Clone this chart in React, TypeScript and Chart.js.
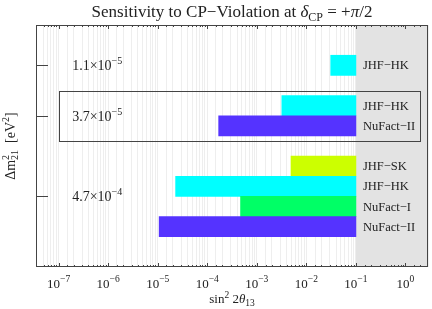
import { useEffect, useRef } from 'react';
import { Chart, registerables } from 'chart.js';
Chart.register(...registerables);

// ---- data ----
const rowPositions = [2, 4, 5, 7, 8, 9, 10];
const experimentNames = ['JHF−HK', 'JHF−HK', 'NuFact−II', 'JHF−SK', 'JHF−HK', 'NuFact−I', 'NuFact−II'];
const sensitivityLower = [0.031, 0.0032, 0.00017, 0.0049, 0.000023, 0.00047, 0.0000107];
const sensitivityUpper = [0.1, 0.1, 0.1, 0.1, 0.1, 0.1, 0.1];
const barColors = ['#00ffff', '#00ffff', '#5533ff', '#ccff00', '#00ffff', '#00ff66', '#5533ff'];
const groupPositions = [2, 4.5, 8.5];
const groupMantissas = ['1.1', '3.7', '4.7'];
const groupExponents = ['−5', '−5', '−4'];
const tickExponents = [-7, -6, -5, -4, -3, -2, -1, 0];
const excludedFrom = 0.1;
const xMin = 3.5e-8;
const xMax = 2.85;
const groupLabelX = 6e-7;
const highlightBox = { xFrom: 1e-7, xTo: 2.0, yFrom: 3.25, yTo: 5.75 };

const SERIF = '"Liberation Serif", "DejaVu Serif", serif';

type Seg = { t: string; size: number; dy?: number; italic?: boolean; stackWith?: Seg };

function fontOf(s: Seg) {
  return `${s.italic ? 'italic ' : ''}${s.size}px ${SERIF}`;
}
function segsWidth(ctx: CanvasRenderingContext2D, segs: Seg[]) {
  let w = 0;
  for (const s of segs) {
    ctx.font = fontOf(s);
    let sw = ctx.measureText(s.t).width;
    if (s.stackWith) {
      ctx.font = fontOf(s.stackWith);
      sw = Math.max(sw, ctx.measureText(s.stackWith.t).width);
    }
    w += sw;
  }
  return w;
}
function drawSegs(ctx: CanvasRenderingContext2D, segs: Seg[], x: number, y: number, align: 'left' | 'center') {
  const total = segsWidth(ctx, segs);
  let cx = align === 'center' ? x - total / 2 : x;
  ctx.textAlign = 'left';
  ctx.textBaseline = 'alphabetic';
  for (const s of segs) {
    ctx.font = fontOf(s);
    ctx.fillText(s.t, cx, y + (s.dy || 0));
    let sw = ctx.measureText(s.t).width;
    if (s.stackWith) {
      ctx.font = fontOf(s.stackWith);
      ctx.fillText(s.stackWith.t, cx, y + (s.stackWith.dy || 0));
      sw = Math.max(sw, ctx.measureText(s.stackWith.t).width);
    }
    cx += sw;
  }
}

const decor = {
  id: 'decor',
  beforeDatasetsDraw(chart: any) {
    const { ctx, chartArea: a, scales } = chart;
    const x0 = scales.x.getPixelForValue(excludedFrom);
    ctx.save();
    ctx.fillStyle = '#e3e3e3';
    ctx.fillRect(x0, a.top, a.right - x0, a.bottom - a.top);
    ctx.restore();
  },
  afterDatasetsDraw(chart: any) {
    const { ctx, chartArea: a, scales } = chart;
    const xs = scales.x;
    const ys = scales.y;
    ctx.save();
    ctx.fillStyle = '#222';
    ctx.strokeStyle = '#444';
    ctx.lineWidth = 1;

    // x tick marks (inside, top and bottom)
    for (const tk of xs.ticks) {
      const px = Math.round(xs.getPixelForValue(tk.value)) + 0.5;
      if (px < a.left + 1 || px > a.right - 1) continue;
      const len = tk.major ? 4 : 2;
      ctx.beginPath();
      ctx.moveTo(px, a.top);
      ctx.lineTo(px, a.top + len);
      ctx.moveTo(px, a.bottom);
      ctx.lineTo(px, a.bottom - len);
      ctx.stroke();
    }

    // y tick marks (left, inside)
    groupPositions.forEach((g) => {
      const py = Math.round(ys.getPixelForValue(g)) + 0.5;
      ctx.beginPath();
      ctx.moveTo(a.left, py);
      ctx.lineTo(a.left + 12, py);
      ctx.stroke();
    });

    // highlight box
    const bx0 = Math.round(xs.getPixelForValue(highlightBox.xFrom)) + 0.5;
    const bx1 = Math.round(xs.getPixelForValue(highlightBox.xTo)) + 0.5;
    const by0 = Math.round(ys.getPixelForValue(highlightBox.yFrom)) + 0.5;
    const by1 = Math.round(ys.getPixelForValue(highlightBox.yTo)) + 0.5;
    ctx.strokeRect(bx0, by0, bx1 - bx0, by1 - by0);

    // frame
    ctx.strokeRect(Math.round(a.left) + 0.5, Math.round(a.top) + 0.5, Math.round(a.right - a.left) - 1, Math.round(a.bottom - a.top) - 1);

    // bar labels
    const lx = xs.getPixelForValue(excludedFrom) + 7;
    experimentNames.forEach((n, i) => {
      const py = ys.getPixelForValue(rowPositions[i]);
      drawSegs(ctx, [{ t: n, size: 12.5 }], lx, py + 4, 'left');
    });

    // group labels
    const gx = xs.getPixelForValue(groupLabelX);
    groupPositions.forEach((g, i) => {
      const py = ys.getPixelForValue(g);
      drawSegs(ctx, [
        { t: `${groupMantissas[i]}×10`, size: 14 },
        { t: groupExponents[i], size: 10, dy: -6 },
      ], gx, py + 5, 'center');
    });

    // x tick labels
    tickExponents.forEach((e) => {
      const px = xs.getPixelForValue(Math.pow(10, e));
      drawSegs(ctx, [
        { t: '10', size: 13 },
        { t: e < 0 ? `−${-e}` : `${e}`, size: 9.5, dy: -6 },
      ], px, 288, 'center');
    });

    // x title
    const cx = (a.left + a.right) / 2;
    drawSegs(ctx, [
      { t: 'sin', size: 13 },
      { t: '2', size: 9.5, dy: -5 },
      { t: ' 2', size: 13 },
      { t: 'θ', size: 13, italic: true },
      { t: '13', size: 9.5, dy: 3 },
    ], cx, 303, 'center');

    // title
    drawSegs(ctx, [
      { t: 'Sensitivity to CP−Violation at ', size: 17 },
      { t: 'δ', size: 17, italic: true },
      { t: 'CP', size: 12, dy: 4 },
      { t: ' = +', size: 17 },
      { t: 'π', size: 17, italic: true },
      { t: '/2', size: 17 },
    ], cx, 17, 'center');

    // y title
    ctx.save();
    ctx.translate(15, (a.top + a.bottom) / 2);
    ctx.rotate(-Math.PI / 2);
    drawSegs(ctx, [
      { t: 'Δm', size: 14 },
      { t: '2', size: 10, dy: -6, stackWith: { t: '21', size: 10, dy: 3 } },
      { t: '  [eV', size: 14 },
      { t: '2', size: 10, dy: -6 },
      { t: ']', size: 14 },
    ], 0, 0, 'center');
    ctx.restore();

    ctx.restore();
  },
};

export default function App() {
  const ref = useRef<HTMLCanvasElement | null>(null);
  useEffect(() => {
    document.body.style.margin = '0';
    const canvas = ref.current!;
    const chart = new Chart(canvas, {
      type: 'bar',
      data: {
        datasets: [
          {
            data: rowPositions.map((y, i) => ({ x: [sensitivityLower[i], sensitivityUpper[i]], y })) as any,
            backgroundColor: barColors,
            borderWidth: 0,
            categoryPercentage: 1,
            barPercentage: 1,
          },
        ],
      },
      options: {
        indexAxis: 'y',
        animation: false,
        responsive: false,
        layout: { padding: { left: 36, right: 4, top: 25, bottom: 42 } },
        plugins: { legend: { display: false }, tooltip: { enabled: false }, title: { display: false } },
        scales: {
          x: {
            type: 'logarithmic',
            min: xMin,
            max: xMax,
            ticks: { display: false },
            grid: { color: '#eeeeee', drawTicks: false, lineWidth: 1 },
            border: { display: false },
          },
          y: {
            type: 'linear',
            min: 0,
            max: 12,
            reverse: true,
            offset: false,
            display: false,
          },
        },
      },
      plugins: [decor],
    });
    return () => chart.destroy();
  }, []);
  return (
    <div style={{ width: 432, height: 309, background: '#fff' }}>
      <canvas ref={ref} width={432} height={309} style={{ display: 'block' }} />
    </div>
  );
}
